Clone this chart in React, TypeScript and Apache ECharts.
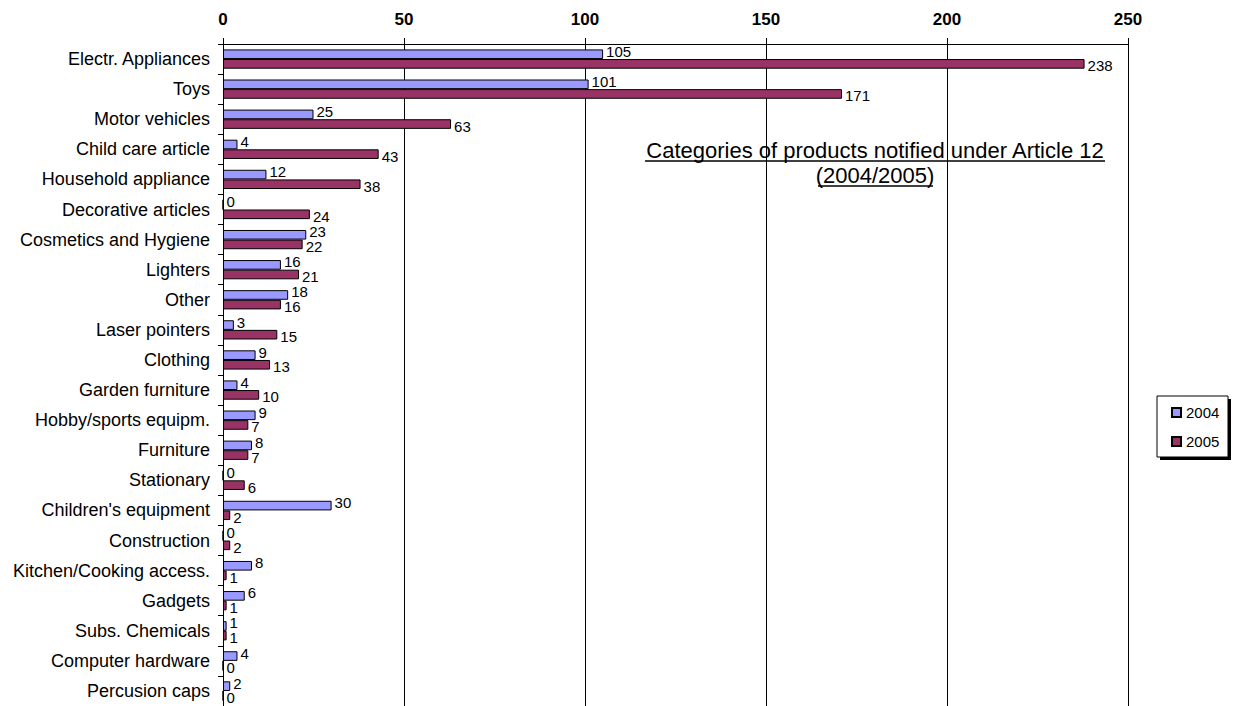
import React, { useEffect, useRef } from "react";
import * as echarts from "echarts";

const categories = [
  "Electr. Appliances",
  "Toys",
  "Motor vehicles",
  "Child care article",
  "Household appliance",
  "Decorative articles",
  "Cosmetics and Hygiene",
  "Lighters",
  "Other",
  "Laser pointers",
  "Clothing",
  "Garden furniture",
  "Hobby/sports equipm.",
  "Furniture",
  "Stationary",
  "Children's equipment",
  "Construction",
  "Kitchen/Cooking access.",
  "Gadgets",
  "Subs. Chemicals",
  "Computer hardware",
  "Percusion caps",
];
const values2004 = [105, 101, 25, 4, 12, 0, 23, 16, 18, 3, 9, 4, 9, 8, 0, 30, 0, 8, 6, 1, 4, 2];
const values2005 = [238, 171, 63, 43, 38, 24, 22, 21, 16, 15, 13, 10, 7, 7, 6, 2, 2, 1, 1, 1, 0, 0];
const seriesNames = ["2004", "2005"];
const xTicks = { min: 0, max: 250, interval: 50 };
const titleLines = ["Categories of products notified under Article 12", "(2004/2005)"];

const FONT = "'Liberation Sans', Arial, sans-serif";

export default function App() {
  const ref = useRef<HTMLDivElement>(null);
  useEffect(() => {
    if (!ref.current) return;
    const chart = echarts.init(ref.current, undefined, { renderer: "svg" });
    const labelStyle = {
      show: true,
      position: "right" as const,
      distance: 3,
      fontSize: 15,
      fontFamily: FONT,
      color: "#000",
    };
    chart.setOption({
      animation: false,
      backgroundColor: "#fff",
      textStyle: { fontFamily: FONT },
      grid: { left: 223, right: 105, top: 44, height: 665 },
      xAxis: {
        type: "value",
        position: "top",
        min: xTicks.min,
        max: xTicks.max,
        interval: xTicks.interval,
        axisLine: { show: true, lineStyle: { color: "#000", width: 1 } },
        axisTick: { show: true, length: 6, lineStyle: { color: "#000" } },
        axisLabel: { fontSize: 17, fontWeight: "bold", color: "#000", margin: 16, fontFamily: FONT },
        splitLine: { show: true, lineStyle: { color: "#000", width: 1 } },
      },
      yAxis: {
        type: "category",
        data: categories,
        inverse: true,
        axisLine: { show: true, lineStyle: { color: "#000", width: 1 } },
        axisTick: { show: true, length: 5, lineStyle: { color: "#000" } },
        axisLabel: { fontSize: 18, color: "#000", margin: 13, fontFamily: FONT },
      },
      legend: {
        orient: "vertical",
        left: 1166,
        top: 400,
        itemWidth: 9,
        itemHeight: 9,
        itemGap: 14,
        icon: "rect",
        data: seriesNames,
        textStyle: { fontSize: 15, color: "#000", fontFamily: FONT },
        z: 10,
      },
      graphic: [
        { type: "rect", shape: { x: 1160, y: 399, width: 71, height: 61 }, style: { fill: "#000" }, z: 1 },
        { type: "rect", shape: { x: 1157, y: 396, width: 71, height: 61 }, style: { fill: "#fff", stroke: "#000", lineWidth: 1 }, z: 2 },
        {
          type: "text",
          x: 875,
          y: 150,
          style: { text: titleLines[0], fontSize: 22, fontFamily: FONT, fill: "#000", textAlign: "center", textVerticalAlign: "middle" },
          z: 5,
        },
        {
          type: "text",
          x: 875,
          y: 175,
          style: { text: titleLines[1], fontSize: 22, fontFamily: FONT, fill: "#000", textAlign: "center", textVerticalAlign: "middle" },
          z: 5,
        },
        { type: "line", shape: { x1: 645, y1: 161, x2: 1105, y2: 161 }, style: { stroke: "#000", lineWidth: 1.5 }, z: 5 },
        { type: "line", shape: { x1: 818, y1: 186, x2: 933, y2: 186 }, style: { stroke: "#000", lineWidth: 1.5 }, z: 5 },
      ],
      series: [
        {
          name: seriesNames[0],
          type: "bar",
          data: values2004,
          barGap: "0%",
          barCategoryGap: "36%",
          itemStyle: { color: "#9999FF", borderColor: "#000", borderWidth: 1 },
          label: { ...labelStyle, offset: [0, -3] },
        },
        {
          name: seriesNames[1],
          type: "bar",
          data: values2005,
          barGap: "0%",
          barCategoryGap: "36%",
          itemStyle: { color: "#993366", borderColor: "#000", borderWidth: 1 },
          label: { ...labelStyle, offset: [0, 2] },
        },
      ],
    });
    return () => chart.dispose();
  }, []);
  return (
    <div
      ref={ref}
      style={{ position: "fixed", left: 0, top: 0, width: 1233, height: 706 }}
    />
  );
}
